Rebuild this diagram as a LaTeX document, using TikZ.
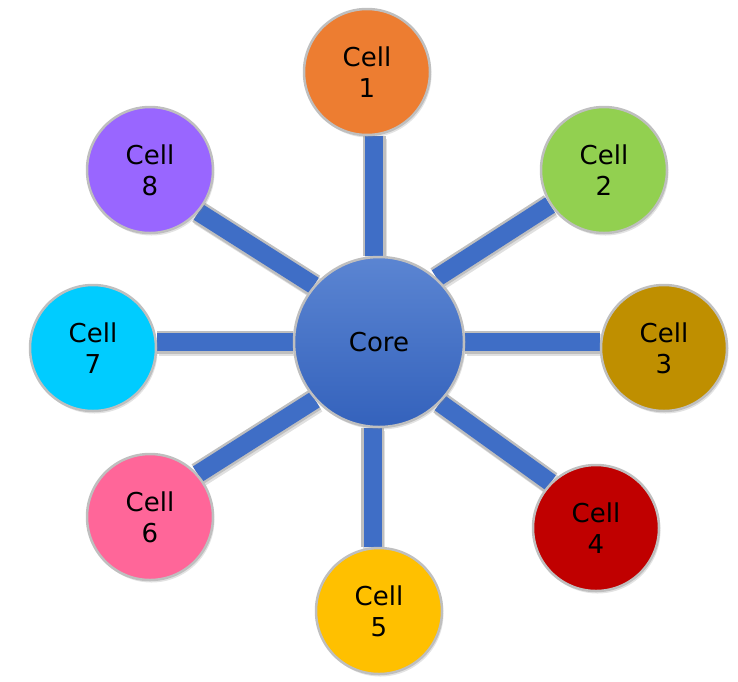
\documentclass[tikz,border=0pt]{standalone}
\usepackage{fontspec}
\setmainfont{DejaVu Sans}
\usetikzlibrary{backgrounds,shadows}

\definecolor{rimgray}{HTML}{BFBFBF}
\definecolor{coretop}{HTML}{5B85D2}
\definecolor{corebot}{HTML}{3462BC}
\definecolor{barblue}{HTML}{3F6EC6}
\definecolor{cellA}{HTML}{ED7D31}
\definecolor{cellB}{HTML}{92D050}
\definecolor{cellC}{HTML}{BF8F00}
\definecolor{cellD}{HTML}{C00000}
\definecolor{cellE}{HTML}{FFC000}
\definecolor{cellF}{HTML}{FF6699}
\definecolor{cellG}{HTML}{00CCFF}
\definecolor{cellH}{HTML}{9966FF}

\tikzset{
  cell/.style={circle,draw=rimgray,line width=2.5pt,minimum size=126pt,inner sep=0pt,
    align=center,font=\fontsize{26}{31}\selectfont,
    drop shadow={shadow xshift=1.5pt,shadow yshift=-2.5pt,opacity=0.22}},
  hub/.style={cell,minimum size=170pt,top color=coretop,bottom color=corebot},
  barshade/.style={line width=22pt,draw=black,opacity=0.12,transform canvas={shift={(1.5pt,-2.5pt)}}},
  bar/.style={line width=23pt,draw=rimgray,postaction={draw=barblue,line width=18pt}}
}

\begin{document}
\begin{tikzpicture}[x=1pt,y=-1pt,line cap=butt]
\useasboundingbox (0,0) rectangle (738,681);
\node[hub] (core) at (379,342) {Core};
\node[cell,fill=cellA] (c1) at (367,72) {Cell\\1};
\node[cell,fill=cellB] (c2) at (604,170) {Cell\\2};
\node[cell,fill=cellC] (c3) at (664,348) {Cell\\3};
\node[cell,fill=cellD] (c4) at (596,528) {Cell\\4};
\node[cell,fill=cellE] (c5) at (379,611) {Cell\\5};
\node[cell,fill=cellF] (c6) at (150,517) {Cell\\6};
\node[cell,fill=cellG] (c7) at (93,348) {Cell\\7};
\node[cell,fill=cellH] (c8) at (150,170) {Cell\\8};
% spokes
\begin{scope}[on background layer]
\foreach \a/\b in {core.93/core.93 |- c1.south, core.-94/core.-94 |- c5.north,
                   core.west/core.west -| c7.east, core.east/core.east -| c3.west,
                   core.48/c2.213, core.-45/c4.135, core.222/c6.42, core.139/c8.-41}
{
  \draw[barshade] (\a) -- (\b);
  \draw[bar] (\a) -- (\b);
}
\end{scope}
\end{tikzpicture}
\end{document}
